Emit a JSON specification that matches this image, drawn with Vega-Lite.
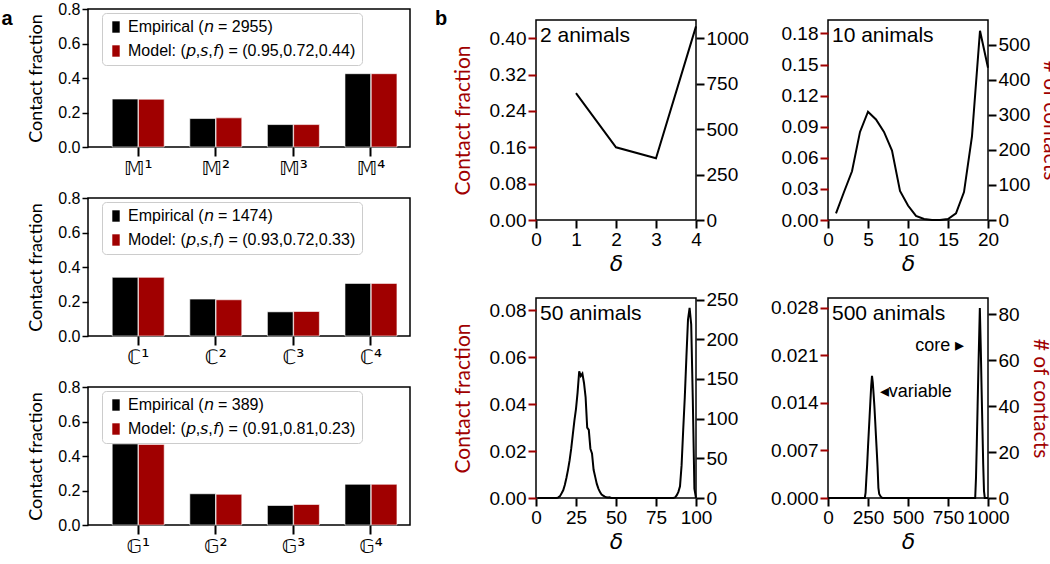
{
  "$schema": "https://vega.github.io/schema/vega-lite/v6.json",
  "padding": {"left": 0, "top": 0, "right": 0, "bottom": 0},
  "background": "white",
  "config": {
    "view": {"stroke": "black", "strokeWidth": 1.5},
    "font": "Liberation Sans",
    "axis": {"grid": false, "domain": false, "labelColor": "black", "titleColor": "black", "titleFontWeight": "normal", "tickColor": "black", "labelFont": "Liberation Sans", "labelOverlap": false}
  },
  "datasets": {
    "bars": [
      {"set": "M", "motif": "𝕄¹", "kind": "Empirical", "value": 0.278},
      {"set": "M", "motif": "𝕄²", "kind": "Empirical", "value": 0.165},
      {"set": "M", "motif": "𝕄³", "kind": "Empirical", "value": 0.130},
      {"set": "M", "motif": "𝕄⁴", "kind": "Empirical", "value": 0.425},
      {"set": "M", "motif": "𝕄¹", "kind": "Model", "value": 0.277},
      {"set": "M", "motif": "𝕄²", "kind": "Model", "value": 0.169},
      {"set": "M", "motif": "𝕄³", "kind": "Model", "value": 0.130},
      {"set": "M", "motif": "𝕄⁴", "kind": "Model", "value": 0.425},
      {"set": "C", "motif": "ℂ¹", "kind": "Empirical", "value": 0.340},
      {"set": "C", "motif": "ℂ²", "kind": "Empirical", "value": 0.214},
      {"set": "C", "motif": "ℂ³", "kind": "Empirical", "value": 0.140},
      {"set": "C", "motif": "ℂ⁴", "kind": "Empirical", "value": 0.305},
      {"set": "C", "motif": "ℂ¹", "kind": "Model", "value": 0.340},
      {"set": "C", "motif": "ℂ²", "kind": "Model", "value": 0.210},
      {"set": "C", "motif": "ℂ³", "kind": "Model", "value": 0.142},
      {"set": "C", "motif": "ℂ⁴", "kind": "Model", "value": 0.305},
      {"set": "G", "motif": "𝔾¹", "kind": "Empirical", "value": 0.470},
      {"set": "G", "motif": "𝔾²", "kind": "Empirical", "value": 0.181},
      {"set": "G", "motif": "𝔾³", "kind": "Empirical", "value": 0.113},
      {"set": "G", "motif": "𝔾⁴", "kind": "Empirical", "value": 0.236},
      {"set": "G", "motif": "𝔾¹", "kind": "Model", "value": 0.467},
      {"set": "G", "motif": "𝔾²", "kind": "Model", "value": 0.178},
      {"set": "G", "motif": "𝔾³", "kind": "Model", "value": 0.119},
      {"set": "G", "motif": "𝔾⁴", "kind": "Model", "value": 0.236}
    ],
    "lines": [
      {"n": 2, "delta": 1, "frac": 0.279},
      {"n": 2, "delta": 2, "frac": 0.160},
      {"n": 2, "delta": 3, "frac": 0.136},
      {"n": 2, "delta": 4, "frac": 0.426},
      {"n": 10, "delta": 1, "frac": 0.0064},
      {"n": 10, "delta": 2, "frac": 0.027},
      {"n": 10, "delta": 3, "frac": 0.047},
      {"n": 10, "delta": 4, "frac": 0.085},
      {"n": 10, "delta": 5, "frac": 0.1045},
      {"n": 10, "delta": 6, "frac": 0.097},
      {"n": 10, "delta": 7, "frac": 0.085},
      {"n": 10, "delta": 8, "frac": 0.067},
      {"n": 10, "delta": 9, "frac": 0.028},
      {"n": 10, "delta": 10, "frac": 0.014},
      {"n": 10, "delta": 11, "frac": 0.004},
      {"n": 10, "delta": 12, "frac": 0.001},
      {"n": 10, "delta": 13, "frac": 0},
      {"n": 10, "delta": 14, "frac": 0},
      {"n": 10, "delta": 15, "frac": 0.001},
      {"n": 10, "delta": 16, "frac": 0.0064},
      {"n": 10, "delta": 17, "frac": 0.027},
      {"n": 10, "delta": 18, "frac": 0.081},
      {"n": 10, "delta": 19, "frac": 0.1826},
      {"n": 10, "delta": 20, "frac": 0.147},
      {"n": 50, "delta": 1, "frac": 0},
      {"n": 50, "delta": 13, "frac": 0},
      {"n": 50, "delta": 14, "frac": 0.0003},
      {"n": 50, "delta": 15, "frac": 0.0008},
      {"n": 50, "delta": 16, "frac": 0.002},
      {"n": 50, "delta": 17, "frac": 0.0033},
      {"n": 50, "delta": 18, "frac": 0.0055},
      {"n": 50, "delta": 19, "frac": 0.0085},
      {"n": 50, "delta": 20, "frac": 0.012},
      {"n": 50, "delta": 21, "frac": 0.016},
      {"n": 50, "delta": 22, "frac": 0.021},
      {"n": 50, "delta": 23, "frac": 0.027},
      {"n": 50, "delta": 24, "frac": 0.033},
      {"n": 50, "delta": 25, "frac": 0.038},
      {"n": 50, "delta": 26, "frac": 0.045},
      {"n": 50, "delta": 27, "frac": 0.054},
      {"n": 50, "delta": 28, "frac": 0.052},
      {"n": 50, "delta": 29, "frac": 0.053},
      {"n": 50, "delta": 30, "frac": 0.049},
      {"n": 50, "delta": 31, "frac": 0.043},
      {"n": 50, "delta": 32, "frac": 0.030},
      {"n": 50, "delta": 33, "frac": 0.029},
      {"n": 50, "delta": 34, "frac": 0.021},
      {"n": 50, "delta": 35, "frac": 0.019},
      {"n": 50, "delta": 36, "frac": 0.012},
      {"n": 50, "delta": 37, "frac": 0.009},
      {"n": 50, "delta": 38, "frac": 0.006},
      {"n": 50, "delta": 39, "frac": 0.004},
      {"n": 50, "delta": 40, "frac": 0.0025},
      {"n": 50, "delta": 41, "frac": 0.0015},
      {"n": 50, "delta": 42, "frac": 0.001},
      {"n": 50, "delta": 43, "frac": 0.0006},
      {"n": 50, "delta": 44, "frac": 0.0003},
      {"n": 50, "delta": 45, "frac": 0.0002},
      {"n": 50, "delta": 46, "frac": 0.0003},
      {"n": 50, "delta": 47, "frac": 0},
      {"n": 50, "delta": 86, "frac": 0},
      {"n": 50, "delta": 87, "frac": 0.0003},
      {"n": 50, "delta": 88, "frac": 0.0012},
      {"n": 50, "delta": 89, "frac": 0.0026},
      {"n": 50, "delta": 90, "frac": 0.005},
      {"n": 50, "delta": 91, "frac": 0.014},
      {"n": 50, "delta": 92, "frac": 0.029},
      {"n": 50, "delta": 93, "frac": 0.043},
      {"n": 50, "delta": 94, "frac": 0.060},
      {"n": 50, "delta": 95, "frac": 0.076},
      {"n": 50, "delta": 96, "frac": 0.081},
      {"n": 50, "delta": 97, "frac": 0.074},
      {"n": 50, "delta": 98, "frac": 0.042},
      {"n": 50, "delta": 99, "frac": 0.004},
      {"n": 50, "delta": 100, "frac": 0},
      {"n": 500, "delta": 1, "frac": 0},
      {"n": 500, "delta": 230, "frac": 0},
      {"n": 500, "delta": 235, "frac": 0.0008},
      {"n": 500, "delta": 240, "frac": 0.003},
      {"n": 500, "delta": 245, "frac": 0.005},
      {"n": 500, "delta": 250, "frac": 0.0075},
      {"n": 500, "delta": 255, "frac": 0.0098},
      {"n": 500, "delta": 260, "frac": 0.012},
      {"n": 500, "delta": 265, "frac": 0.0143},
      {"n": 500, "delta": 270, "frac": 0.0165},
      {"n": 500, "delta": 275, "frac": 0.018},
      {"n": 500, "delta": 280, "frac": 0.017},
      {"n": 500, "delta": 285, "frac": 0.0153},
      {"n": 500, "delta": 290, "frac": 0.0135},
      {"n": 500, "delta": 295, "frac": 0.0113},
      {"n": 500, "delta": 300, "frac": 0.009},
      {"n": 500, "delta": 305, "frac": 0.0068},
      {"n": 500, "delta": 310, "frac": 0.0045},
      {"n": 500, "delta": 315, "frac": 0.0015},
      {"n": 500, "delta": 320, "frac": 0.0006},
      {"n": 500, "delta": 330, "frac": 0.0002},
      {"n": 500, "delta": 340, "frac": 0},
      {"n": 500, "delta": 920, "frac": 0},
      {"n": 500, "delta": 925, "frac": 0.003},
      {"n": 500, "delta": 930, "frac": 0.008},
      {"n": 500, "delta": 935, "frac": 0.0135},
      {"n": 500, "delta": 940, "frac": 0.019},
      {"n": 500, "delta": 945, "frac": 0.024},
      {"n": 500, "delta": 949, "frac": 0.028},
      {"n": 500, "delta": 955, "frac": 0.022},
      {"n": 500, "delta": 960, "frac": 0.016},
      {"n": 500, "delta": 965, "frac": 0.0105},
      {"n": 500, "delta": 970, "frac": 0.005},
      {"n": 500, "delta": 975, "frac": 0.001},
      {"n": 500, "delta": 980, "frac": 0},
      {"n": 500, "delta": 1000, "frac": 0}
    ]
  },
  "spacing": 3,
  "resolve": {"scale": {"x": "independent", "y": "independent", "color": "independent"}},
  "hconcat": [
    {
      "title": {"text": "b", "orient": "right", "anchor": "start", "angle": 0, "align": "left", "baseline": "top", "offset": 12, "frame": "group", "fontSize": 20, "fontWeight": "bold", "font": "Liberation Sans"},
      "vconcat": [
        {
          "width": 322, "height": 138,
          "title": {"text": "a", "orient": "left", "anchor": "end", "angle": 0, "fontSize": 20, "fontWeight": "bold", "font": "Liberation Sans", "baseline": "top", "offset": 4, "frame": "group"},
          "data": {"name": "bars"},
          "transform": [{"filter": "datum.set == 'M'"}],
          "mark": {"type": "bar", "stroke": "white", "strokeWidth": 0.6},
          "encoding": {
            "x": {"field": "motif", "type": "nominal", "sort": null, "scale": {"paddingInner": 0.33, "paddingOuter": 0.24, "align": 0.65}, "axis": {"title": null, "labelAngle": 0, "labelFont": "DejaVu Sans", "labelFontSize": 20, "tickSize": 9, "tickWidth": 2, "labelPadding": 2}},
            "xOffset": {"field": "kind", "type": "nominal", "scale": {"paddingInner": 0.02}},
            "y": {"field": "value", "type": "quantitative", "scale": {"domain": [0, 0.8], "nice": false}, "axis": {"title": "Contact fraction", "values": [0, 0.2, 0.4, 0.6, 0.8], "format": ".1f", "tickSize": 6, "tickWidth": 1.5, "labelFontSize": 16, "titleFont": "Lato", "titleFontSize": 18, "titlePadding": 12}},
            "color": {"field": "kind", "type": "nominal", "scale": {"domain": ["Empirical", "Model"], "range": ["#000000", "#a00000"]},
              "legend": {"title": null, "orient": "none", "legendX": 14, "legendY": 4, "fillColor": "rgba(255,255,255,0.85)", "strokeColor": "#cccccc", "cornerRadius": 4, "padding": 6, "symbolType": "M-0.65,-1H0.65V1H-0.65Z", "symbolSize": 130, "symbolStrokeWidth": 0, "labelFontSize": 16, "labelFont": "Liberation Sans", "rowPadding": 8, "labelOffset": 4, "labelLimit": 400,
                "labelExpr": "datum.label == 'Empirical' ? 'Empirical (𝘯 = 2955)' : 'Model: (𝘱,𝘴,𝘧) = (0.95,0.72,0.44)'"}}
          }
        },
        {
          "width": 322, "height": 138,
          "data": {"name": "bars"},
          "transform": [{"filter": "datum.set == 'C'"}],
          "mark": {"type": "bar", "stroke": "white", "strokeWidth": 0.6},
          "encoding": {
            "x": {"field": "motif", "type": "nominal", "sort": null, "scale": {"paddingInner": 0.33, "paddingOuter": 0.24, "align": 0.65}, "axis": {"title": null, "labelAngle": 0, "labelFont": "DejaVu Sans", "labelFontSize": 20, "tickSize": 9, "tickWidth": 2, "labelPadding": 2}},
            "xOffset": {"field": "kind", "type": "nominal", "scale": {"paddingInner": 0.02}},
            "y": {"field": "value", "type": "quantitative", "scale": {"domain": [0, 0.8], "nice": false}, "axis": {"title": "Contact fraction", "values": [0, 0.2, 0.4, 0.6, 0.8], "format": ".1f", "tickSize": 6, "tickWidth": 1.5, "labelFontSize": 16, "titleFont": "Lato", "titleFontSize": 18, "titlePadding": 12}},
            "color": {"field": "kind", "type": "nominal", "scale": {"domain": ["Empirical", "Model"], "range": ["#000000", "#a00000"]},
              "legend": {"title": null, "orient": "none", "legendX": 14, "legendY": 4, "fillColor": "rgba(255,255,255,0.85)", "strokeColor": "#cccccc", "cornerRadius": 4, "padding": 6, "symbolType": "M-0.65,-1H0.65V1H-0.65Z", "symbolSize": 130, "symbolStrokeWidth": 0, "labelFontSize": 16, "labelFont": "Liberation Sans", "rowPadding": 8, "labelOffset": 4, "labelLimit": 400,
                "labelExpr": "datum.label == 'Empirical' ? 'Empirical (𝘯 = 1474)' : 'Model: (𝘱,𝘴,𝘧) = (0.93,0.72,0.33)'"}}
          }
        },
        {
          "width": 322, "height": 138,
          "data": {"name": "bars"},
          "transform": [{"filter": "datum.set == 'G'"}],
          "mark": {"type": "bar", "stroke": "white", "strokeWidth": 0.6},
          "encoding": {
            "x": {"field": "motif", "type": "nominal", "sort": null, "scale": {"paddingInner": 0.33, "paddingOuter": 0.24, "align": 0.65}, "axis": {"title": null, "labelAngle": 0, "labelFont": "DejaVu Sans", "labelFontSize": 20, "tickSize": 9, "tickWidth": 2, "labelPadding": 2}},
            "xOffset": {"field": "kind", "type": "nominal", "scale": {"paddingInner": 0.02}},
            "y": {"field": "value", "type": "quantitative", "scale": {"domain": [0, 0.8], "nice": false}, "axis": {"title": "Contact fraction", "values": [0, 0.2, 0.4, 0.6, 0.8], "format": ".1f", "tickSize": 6, "tickWidth": 1.5, "labelFontSize": 16, "titleFont": "Lato", "titleFontSize": 18, "titlePadding": 12}},
            "color": {"field": "kind", "type": "nominal", "scale": {"domain": ["Empirical", "Model"], "range": ["#000000", "#a00000"]},
              "legend": {"title": null, "orient": "none", "legendX": 14, "legendY": 4, "fillColor": "rgba(255,255,255,0.85)", "strokeColor": "#cccccc", "cornerRadius": 4, "padding": 6, "symbolType": "M-0.65,-1H0.65V1H-0.65Z", "symbolSize": 130, "symbolStrokeWidth": 0, "labelFontSize": 16, "labelFont": "Liberation Sans", "rowPadding": 8, "labelOffset": 4, "labelLimit": 400,
                "labelExpr": "datum.label == 'Empirical' ? 'Empirical (𝘯 = 389)' : 'Model: (𝘱,𝘴,𝘧) = (0.91,0.81,0.23)'"}}
          }
        }
      ],
      "spacing": 10,
      "resolve": {"scale": {"x": "independent", "y": "independent", "xOffset": "independent", "color": "independent"}}
    },
    {
      "spacing": 9,
      "resolve": {"scale": {"x": "independent", "y": "independent"}},
      "vconcat": [
        {
          "width": 160, "height": 1,
          "view": {"stroke": null},
          "data": {"values": []},
          "mark": {"type": "point", "opacity": 0},
          "encoding": {}
        },
        {
          "columns": 2,
          "spacing": {"row": 14, "column": 19},
          "resolve": {"scale": {"x": "independent", "y": "independent"}},
          "concat": [
            {
              "width": 160, "height": 200,
              "data": {"name": "lines"},
              "transform": [{"filter": "datum.n == 2"}],
              "layer": [
                {"layer": [
                  {"mark": {"type": "line", "color": "black", "strokeWidth": 2},
                   "encoding": {
                     "x": {"field": "delta", "type": "quantitative", "scale": {"domain": [0, 4], "nice": false}, "axis": {"title": "δ", "titleFont": "DejaVu Sans", "titleFontStyle": "italic", "titleFontSize": 22, "titlePadding": 4, "values": [0, 1, 2, 3, 4], "format": "d", "tickSize": 8, "tickWidth": 2, "labelFontSize": 19, "labelFlush": false}},
                     "y": {"field": "frac", "type": "quantitative", "scale": {"domain": [0, 0.44], "nice": false}, "axis": {"orient": "left", "title": "Contact fraction", "titleColor": "#a00000", "titleFont": "Lato", "titleFontSize": 21, "titlePadding": 16, "values": [0, 0.08, 0.16, 0.24, 0.32, 0.4], "format": ".2f", "tickColor": "#a00000", "tickSize": 8, "tickWidth": 2, "labelFontSize": 19}}
                   }},
                  {"data": {"values": [{}]}, "mark": {"type": "text", "text": "2 animals", "align": "left", "baseline": "top", "dx": 4, "dy": 5, "fontSize": 21, "font": "Liberation Sans", "color": "black"},
                   "encoding": {
                     "x": {"datum": 0, "type": "quantitative", "axis": {"title": "δ", "titleFont": "DejaVu Sans", "titleFontStyle": "italic", "titleFontSize": 22, "titlePadding": 4, "values": [0, 1, 2, 3, 4], "format": "d", "tickSize": 8, "tickWidth": 2, "labelFontSize": 19, "labelFlush": false}},
                     "y": {"datum": 0.44, "type": "quantitative", "axis": {"orient": "left", "title": "Contact fraction", "titleColor": "#a00000", "titleFont": "Lato", "titleFontSize": 21, "titlePadding": 16, "values": [0, 0.08, 0.16, 0.24, 0.32, 0.4], "format": ".2f", "tickColor": "#a00000", "tickSize": 8, "tickWidth": 2, "labelFontSize": 19}}}}
                ]},
                {"mark": {"type": "rule", "opacity": 0},
                 "encoding": {"y": {"datum": 0, "type": "quantitative", "scale": {"domain": [0, 1100], "nice": false}, "axis": {"orient": "right", "title": null, "values": [0, 250, 500, 750, 1000], "format": "d", "tickSize": 8, "tickWidth": 2, "labelFontSize": 19}}}}
              ],
              "resolve": {"scale": {"y": "independent"}}
            },
            {
              "width": 160, "height": 200,
              "data": {"name": "lines"},
              "transform": [{"filter": "datum.n == 10"}],
              "layer": [
                {"layer": [
                  {"mark": {"type": "line", "color": "black", "strokeWidth": 2},
                   "encoding": {
                     "x": {"field": "delta", "type": "quantitative", "scale": {"domain": [0, 20], "nice": false}, "axis": {"title": "δ", "titleFont": "DejaVu Sans", "titleFontStyle": "italic", "titleFontSize": 22, "titlePadding": 4, "values": [0, 5, 10, 15, 20], "format": "d", "tickSize": 8, "tickWidth": 2, "labelFontSize": 19, "labelFlush": false}},
                     "y": {"field": "frac", "type": "quantitative", "scale": {"domain": [0, 0.193], "nice": false}, "axis": {"orient": "left", "title": null, "values": [0, 0.03, 0.06, 0.09, 0.12, 0.15, 0.18], "format": ".2f", "tickColor": "#a00000", "tickSize": 8, "tickWidth": 2, "labelFontSize": 19}}
                   }},
                  {"data": {"values": [{}]}, "mark": {"type": "text", "text": "10 animals", "align": "left", "baseline": "top", "dx": 4, "dy": 5, "fontSize": 21, "font": "Liberation Sans", "color": "black"},
                   "encoding": {
                     "x": {"datum": 0, "type": "quantitative", "axis": {"title": "δ", "titleFont": "DejaVu Sans", "titleFontStyle": "italic", "titleFontSize": 22, "titlePadding": 4, "values": [0, 5, 10, 15, 20], "format": "d", "tickSize": 8, "tickWidth": 2, "labelFontSize": 19, "labelFlush": false}},
                     "y": {"datum": 0.193, "type": "quantitative", "axis": {"orient": "left", "title": null, "values": [0, 0.03, 0.06, 0.09, 0.12, 0.15, 0.18], "format": ".2f", "tickColor": "#a00000", "tickSize": 8, "tickWidth": 2, "labelFontSize": 19}}}}
                ]},
                {"mark": {"type": "rule", "opacity": 0},
                 "encoding": {"y": {"datum": 0, "type": "quantitative", "scale": {"domain": [0, 570], "nice": false}, "axis": {"orient": "right", "title": "# of contacts", "titleColor": "#a00000", "titleFont": "Lato", "titleFontSize": 21, "titlePadding": 10, "values": [0, 100, 200, 300, 400, 500], "format": "d", "tickSize": 8, "tickWidth": 2, "labelFontSize": 19}}}}
              ],
              "resolve": {"scale": {"y": "independent"}}
            },
            {
              "width": 160, "height": 200,
              "data": {"name": "lines"},
              "transform": [{"filter": "datum.n == 50"}],
              "layer": [
                {"layer": [
                  {"mark": {"type": "line", "color": "black", "strokeWidth": 2},
                   "encoding": {
                     "x": {"field": "delta", "type": "quantitative", "scale": {"domain": [0, 100], "nice": false}, "axis": {"title": "δ", "titleFont": "DejaVu Sans", "titleFontStyle": "italic", "titleFontSize": 22, "titlePadding": 4, "values": [0, 25, 50, 75, 100], "format": "d", "tickSize": 8, "tickWidth": 2, "labelFontSize": 19, "labelFlush": false}},
                     "y": {"field": "frac", "type": "quantitative", "scale": {"domain": [0, 0.0852], "nice": false}, "axis": {"orient": "left", "title": "Contact fraction", "titleColor": "#a00000", "titleFont": "Lato", "titleFontSize": 21, "titlePadding": 16, "values": [0, 0.02, 0.04, 0.06, 0.08], "format": ".2f", "tickColor": "#a00000", "tickSize": 8, "tickWidth": 2, "labelFontSize": 19}}
                   }},
                  {"data": {"values": [{}]}, "mark": {"type": "text", "text": "50 animals", "align": "left", "baseline": "top", "dx": 4, "dy": 5, "fontSize": 21, "font": "Liberation Sans", "color": "black"},
                   "encoding": {
                     "x": {"datum": 0, "type": "quantitative", "axis": {"title": "δ", "titleFont": "DejaVu Sans", "titleFontStyle": "italic", "titleFontSize": 22, "titlePadding": 4, "values": [0, 25, 50, 75, 100], "format": "d", "tickSize": 8, "tickWidth": 2, "labelFontSize": 19, "labelFlush": false}},
                     "y": {"datum": 0.0852, "type": "quantitative", "axis": {"orient": "left", "title": "Contact fraction", "titleColor": "#a00000", "titleFont": "Lato", "titleFontSize": 21, "titlePadding": 16, "values": [0, 0.02, 0.04, 0.06, 0.08], "format": ".2f", "tickColor": "#a00000", "tickSize": 8, "tickWidth": 2, "labelFontSize": 19}}}}
                ]},
                {"mark": {"type": "rule", "opacity": 0},
                 "encoding": {"y": {"datum": 0, "type": "quantitative", "scale": {"domain": [0, 252], "nice": false}, "axis": {"orient": "right", "title": null, "values": [0, 50, 100, 150, 200, 250], "format": "d", "tickSize": 8, "tickWidth": 2, "labelFontSize": 19}}}}
              ],
              "resolve": {"scale": {"y": "independent"}}
            },
            {
              "width": 160, "height": 200,
              "data": {"name": "lines"},
              "transform": [{"filter": "datum.n == 500"}],
              "layer": [
                {"layer": [
                  {"mark": {"type": "line", "color": "black", "strokeWidth": 2},
                   "encoding": {
                     "x": {"field": "delta", "type": "quantitative", "scale": {"domain": [0, 1000], "nice": false}, "axis": {"title": "δ", "titleFont": "DejaVu Sans", "titleFontStyle": "italic", "titleFontSize": 22, "titlePadding": 4, "values": [0, 250, 500, 750, 1000], "format": "d", "tickSize": 8, "tickWidth": 2, "labelFontSize": 19, "labelFlush": false}},
                     "y": {"field": "frac", "type": "quantitative", "scale": {"domain": [0, 0.02947], "nice": false}, "axis": {"orient": "left", "title": null, "values": [0, 0.007, 0.014, 0.021, 0.028], "format": ".3f", "tickColor": "#a00000", "tickSize": 8, "tickWidth": 2, "labelFontSize": 19}}
                   }},
                  {"data": {"values": [{}]},
                   "mark": {"type": "text", "align": "left", "baseline": "top", "dx": 4, "dy": 5, "fontSize": 21, "font": "Liberation Sans", "color": "black", "text": "500 animals"},
                   "encoding": {
                     "x": {"datum": 0, "type": "quantitative", "axis": {"title": "δ", "titleFont": "DejaVu Sans", "titleFontStyle": "italic", "titleFontSize": 22, "titlePadding": 4, "values": [0, 250, 500, 750, 1000], "format": "d", "tickSize": 8, "tickWidth": 2, "labelFontSize": 19, "labelFlush": false}},
                     "y": {"datum": 0.02947, "type": "quantitative", "axis": {"orient": "left", "title": null, "values": [0, 0.007, 0.014, 0.021, 0.028], "format": ".3f", "tickColor": "#a00000", "tickSize": 8, "tickWidth": 2, "labelFontSize": 19}}}},
                  {"data": {"values": [{}]}, "mark": {"type": "text", "text": "◂variable", "align": "left", "baseline": "middle", "fontSize": 18, "font": "Liberation Sans", "color": "black"},
                   "encoding": {
                     "x": {"datum": 323, "type": "quantitative", "axis": {"title": "δ", "titleFont": "DejaVu Sans", "titleFontStyle": "italic", "titleFontSize": 22, "titlePadding": 4, "values": [0, 250, 500, 750, 1000], "format": "d", "tickSize": 8, "tickWidth": 2, "labelFontSize": 19, "labelFlush": false}},
                     "y": {"datum": 0.0156, "type": "quantitative", "axis": {"orient": "left", "title": null, "values": [0, 0.007, 0.014, 0.021, 0.028], "format": ".3f", "tickColor": "#a00000", "tickSize": 8, "tickWidth": 2, "labelFontSize": 19}}}},
                  {"data": {"values": [{}]}, "mark": {"type": "text", "text": "core ▸", "align": "right", "baseline": "middle", "fontSize": 18, "font": "Liberation Sans", "color": "black"},
                   "encoding": {
                     "x": {"datum": 851, "type": "quantitative", "axis": {"title": "δ", "titleFont": "DejaVu Sans", "titleFontStyle": "italic", "titleFontSize": 22, "titlePadding": 4, "values": [0, 250, 500, 750, 1000], "format": "d", "tickSize": 8, "tickWidth": 2, "labelFontSize": 19, "labelFlush": false}},
                     "y": {"datum": 0.0224, "type": "quantitative", "axis": {"orient": "left", "title": null, "values": [0, 0.007, 0.014, 0.021, 0.028], "format": ".3f", "tickColor": "#a00000", "tickSize": 8, "tickWidth": 2, "labelFontSize": 19}}}}
                ]},
                {"mark": {"type": "rule", "opacity": 0},
                 "encoding": {"y": {"datum": 0, "type": "quantitative", "scale": {"domain": [0, 87.1], "nice": false}, "axis": {"orient": "right", "title": "# of contacts", "titleColor": "#a00000", "titleFont": "Lato", "titleFontSize": 21, "titlePadding": 10, "values": [0, 20, 40, 60, 80], "format": "d", "tickSize": 8, "tickWidth": 2, "labelFontSize": 19}}}}
              ],
              "resolve": {"scale": {"y": "independent"}}
            }
          ]
        }
      ]
    }
  ]
}
